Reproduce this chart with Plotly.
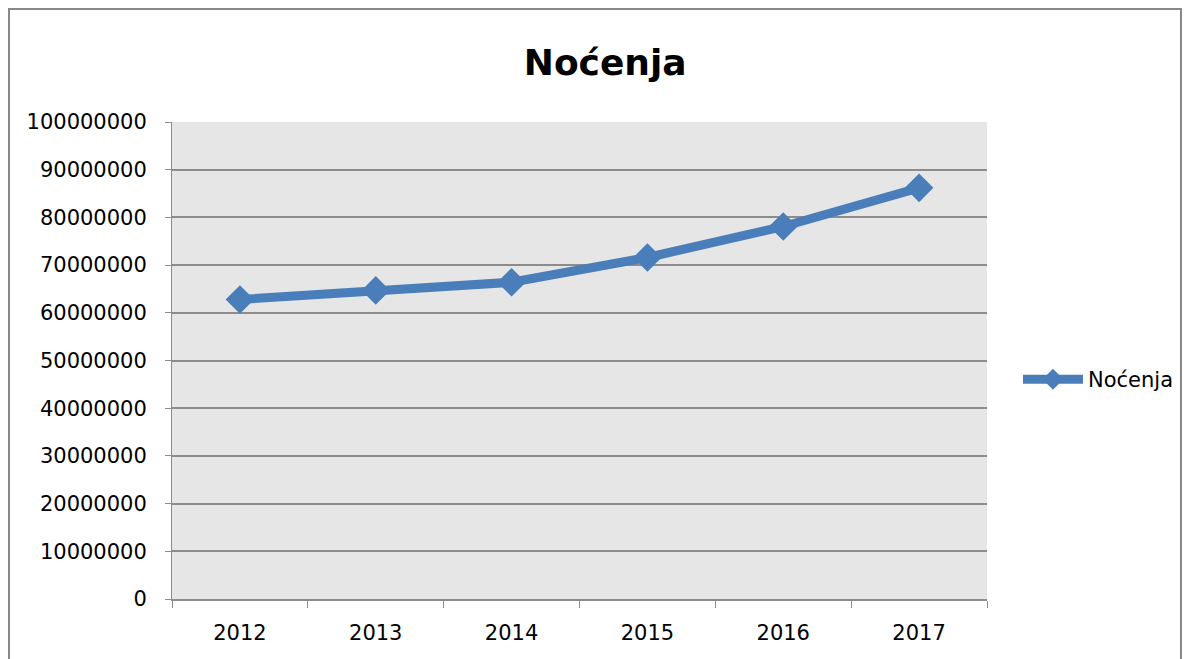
import plotly.graph_objects as go

years = ["2012", "2013", "2014", "2015", "2016", "2017"]
nocenja = [62800000, 64700000, 66400000, 71600000, 78100000, 86200000]
y_ticks = list(range(0, 100000001, 10000000))

LINE_BLUE = "#4A7EBB"
GRID = "#8C8C8C"
FONT = "DejaVu Sans"

fig = go.Figure()
fig.add_trace(
    go.Scatter(
        x=years,
        y=nocenja,
        name="Noćenja",
        mode="lines+markers",
        line=dict(color=LINE_BLUE, width=9),
        marker=dict(symbol="diamond", size=22, color=LINE_BLUE),
    )
)

# outer chart border (bottom edge falls outside the window, as in the source)
fig.add_shape(
    type="rect", xref="paper", yref="paper",
    x0=-0.2, x1=1.238, y0=-0.3, y1=1.237,
    line=dict(color="#888888", width=2), fillcolor="rgba(0,0,0,0)",
)

fig.update_layout(
    width=1189,
    height=659,
    margin=dict(l=172, r=202, t=122, b=60, autoexpand=False),
    paper_bgcolor="white",
    plot_bgcolor="#E6E6E6",
    font=dict(family=FONT, size=21, color="black"),
    title=dict(
        text="<b>Noćenja</b>",
        x=0.509, xanchor="center",
        y=0.905, yanchor="middle",
        font=dict(family=FONT, size=36, color="black"),
    ),
    showlegend=True,
    legend=dict(
        x=1.038, xanchor="left",
        y=0.46, yanchor="middle",
        bgcolor="rgba(0,0,0,0)",
        font=dict(family=FONT, size=21),
        itemwidth=60,
    ),
)

fig.update_xaxes(
    type="category",
    range=[-0.5, len(years) - 0.5],
    tickson="boundaries",
    ticks="outside",
    ticklen=7,
    tickcolor=GRID,
    tickwidth=1,
    ticklabelstandoff=14,
    showgrid=False,
    showline=True,
    linecolor=GRID,
    linewidth=2,
)
fig.update_yaxes(
    range=[0, 100000000],
    tickvals=y_ticks,
    tickformat="d",
    ticks="outside",
    ticklen=6,
    tickcolor=GRID,
    ticklabelstandoff=14,
    showgrid=True,
    gridcolor=GRID,
    gridwidth=2,
    showline=True,
    linecolor=GRID,
    linewidth=1,
    zeroline=False,
)

# drop the default page margin so the figure sits at the window's top-left corner
fig.write_html(
    "out.html",
    config={"displayModeBar": False},
    post_script="document.body.style.margin='0px';",
)
